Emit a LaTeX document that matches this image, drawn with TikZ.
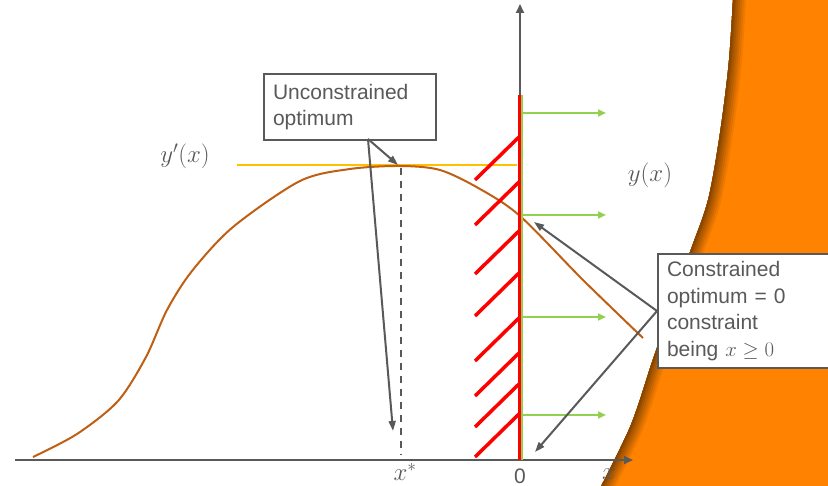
\documentclass[tikz,border=0pt]{standalone}
\usepackage{fontspec}
\setmainfont{Liberation Sans}
\usetikzlibrary{arrows.meta}

\definecolor{inkgray}{RGB}{89,89,89}
\definecolor{backorange}{RGB}{255,130,0}
\definecolor{curvebrown}{RGB}{190,95,20}
\definecolor{tangentyellow}{RGB}{255,192,0}
\definecolor{pushgreen}{RGB}{146,208,80}

\tikzset{every picture/.style={line width=0.75pt}}
\tikzset{
  axis/.style={line width=2.5pt, color=inkgray, -{Triangle[length=9pt,width=8pt]}},
  callout/.style={line width=2pt, color=inkgray, -{Triangle[length=10pt,width=7pt]}},
  push/.style={line width=2.5pt, color=pushgreen, -{Triangle[length=8pt,width=7pt]}},
  wall/.style={line width=3pt, color=red},
  hatch/.style={line width=3.5pt, color=red},
  note/.style={draw=inkgray, line width=2pt, fill=white, anchor=north west, align=left,
    text width=154pt, inner xsep=9pt, text=inkgray, font=\fontsize{21}{26.5}\selectfont},
  lbl/.style={text=inkgray, font=\fontsize{23.5}{26}\selectfont},
}

\begin{document}
\begin{tikzpicture}[x=1pt, y=-1pt]
    \clip (0,0) rectangle (828,486);
    % orange backdrop with shaded rim
    \begin{scope}
        \clip plot[smooth] coordinates {(734,-20) (729,60) (720,133) (708,200) (690,252) (671,307) (652,362) (630,427) (594,500)} -- (860,500) -- (860,-20) -- cycle;
        \fill[backorange] (560,-20) rectangle (860,500);
        \foreach \w/\c in {26/94, 22/87, 18/80, 14/73, 10/66, 6/59, 3/53}
            \draw[line width=\w pt, color=backorange!\c!black] plot[smooth] coordinates {(734,-20) (729,60) (720,133) (708,200) (690,252) (671,307) (652,362) (630,427) (594,500)} -- (860,500) -- (860,-20) -- cycle;
    \end{scope}

    % axes
    \coordinate (xfrom) at (15,460);
    \coordinate (xto) at (633,460);
    \coordinate (origin) at (520,460);
    \coordinate (ytop) at (520,4);
    \draw[axis] (xfrom) -- (xto);
    \draw[axis, line width=2pt] (origin) -- (ytop);

    % function and its tangent at the peak
    \draw[line width=2pt, color=tangentyellow] (237,165) -- (517,165);
    \draw[line width=2pt, color=curvebrown] plot[smooth] coordinates {(33,457) (77,434) (118,401) (146,357) (167,310) (192,271) (233,227) (300,181) (350,169) (400,166) (440,170) (480,189) (520,216) (583,280) (643,338)};
    \draw[line width=2.5pt, color=inkgray, dash pattern=on 7pt off 6pt] (401,168) -- (401,455);

    % constraint wall x >= 0
    \draw[line width=2.5pt, color=pushgreen] (521.5,95) -- (521.5,460);
    \draw[wall] (519,95) -- (519,460);
    \foreach \y in {137,182,231,273,318,353,384,414}
        \draw[hatch] (519,\y) -- ++(-44,43);
    \foreach \y in {113,215,317,415}
        \draw[push] (522,\y) -- (606,\y);

    % labels
    \node[lbl] (yprime) at (185,156) {$y'(x)$};
    \node[lbl] (yfun) at (650,175) {$y(x)$};
    \node[lbl] (xstar) at (405,472) {$x^*$};
    \node[lbl, font=\fontsize{21}{24}\selectfont] (zero) at (520,476) {0};
    \node[lbl] (xname) at (609,474) {$x$};

    % unconstrained optimum
    \node[note, minimum height=66pt] (unconbox) at (263,73) {Unconstrained\\optimum};
    \coordinate (uncfoot) at (368,139);
    \coordinate (peak) at (398,165);
    \coordinate (xstarmark) at (393,431);
    \draw[callout] (uncfoot) -- (peak);
    \draw[callout] (uncfoot) -- (xstarmark);

    % constrained optimum
    \node[note, minimum height=114pt] (conbox) at (657,253) {Constrained\\optimum = 0\\constraint\\being $x \geq 0$};
    \coordinate (cutpoint) at (534,222);
    \coordinate (zeromark) at (535,452);
    \draw[callout] (conbox.west) -- (cutpoint);
    \draw[callout] (conbox.west) -- (zeromark);
\end{tikzpicture}
\end{document}
